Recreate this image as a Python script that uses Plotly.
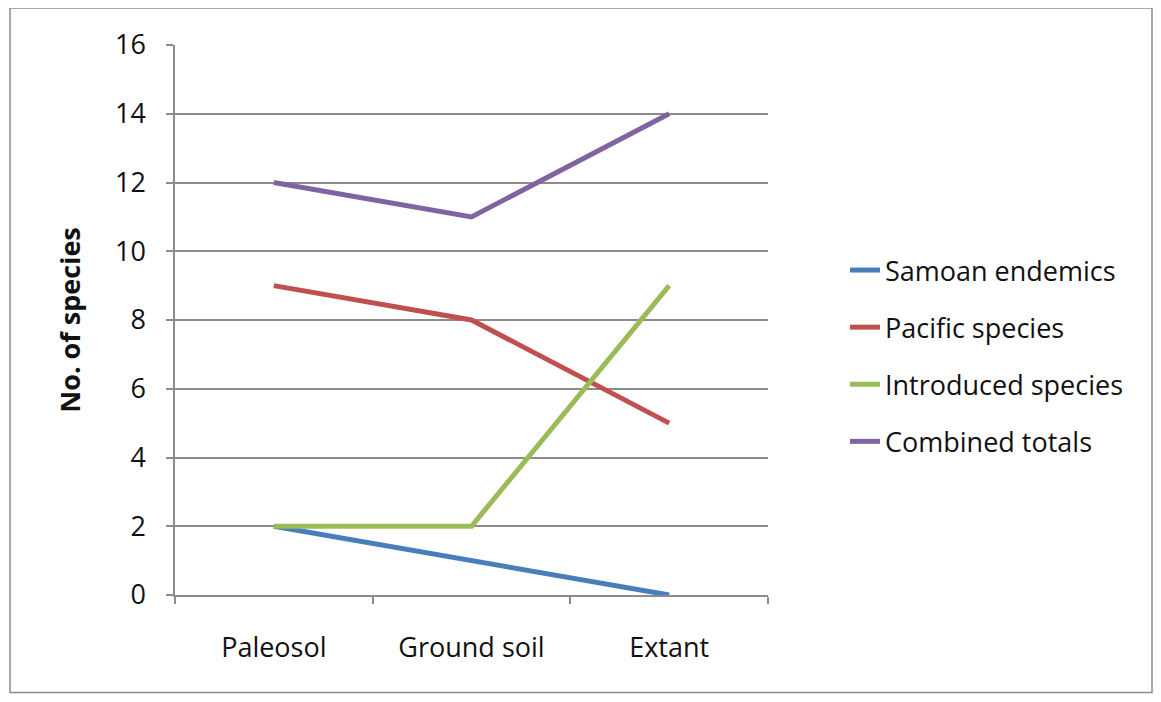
import plotly.graph_objects as go

categories = ["Paleosol", "Ground soil", "Extant"]
samoan_endemics = [2, 1, 0]
pacific_species = [9, 8, 5]
introduced_species = [2, 2, 9]
combined_totals = [12, 11, 14]
y_ticks = [0, 2, 4, 6, 8, 10, 12, 14, 16]

series = [
    ("Samoan endemics", samoan_endemics, "#4A7EBB"),
    ("Pacific species", pacific_species, "#C0504D"),
    ("Introduced species", introduced_species, "#9BBB59"),
    ("Combined totals", combined_totals, "#8064A2"),
]

fig = go.Figure()
for i, (name, vals, col) in enumerate(series):
    fig.add_trace(go.Scatter(
        x=categories, y=vals, mode="lines", name=name,
        legendgroup=str(i),
        line=dict(color=col, width=5),
    ))

OFF = 8  # browser body margin
W, H = 1161 - 2 * OFF, 702 - 2 * OFF
L, R, T, B = 175 - OFF, 768 - OFF, 45 - OFF, 595 - OFF
pw, ph = R - L, B - T

def px(x):
    return (x - OFF - L) / pw

def py(y):
    return (B - (y - OFF)) / ph

fig.add_shape(type="rect", xref="paper", yref="paper",
              x0=px(10), x1=px(1152), y0=py(692.5), y1=py(8),
              line=dict(color="#8c8c8c", width=1.5), layer="below")

font_family = "Open Sans, Liberation Sans, sans-serif"
FS = 27

fig.update_layout(
    width=W, height=H,
    margin=dict(l=L, r=W - R, t=T, b=H - B, pad=0),
    paper_bgcolor="white", plot_bgcolor="white",
    font=dict(family=font_family, color="#111", size=FS),
    showlegend=True,
    legend=dict(
        x=px(845), xanchor="left", y=py(356), yanchor="middle",
        font=dict(size=FS, family=font_family, color="#111"),
        traceorder="grouped", tracegroupgap=19,
        bgcolor="rgba(0,0,0,0)",
    ),
    xaxis=dict(
        type="category", range=[-0.5, 2.5],
        tickson="boundaries", ticks="outside", ticklen=7,
        tickcolor="#8c8c8c", tickwidth=1.5,
        showline=True, linecolor="#8c8c8c", linewidth=1.5,
        showgrid=False, tickfont=dict(size=FS),
        ticklabelstandoff=28,
    ),
    yaxis=dict(
        range=[0, 16], tickvals=y_ticks,
        ticks="outside", ticklen=7, tickcolor="#8c8c8c", tickwidth=1.5,
        showline=True, linecolor="#8c8c8c", linewidth=1.5,
        showgrid=True, gridcolor="#8c8c8c", gridwidth=1.5,
        zeroline=False, tickfont=dict(size=FS),
        ticklabelstandoff=15,
        title=dict(text="<b>No. of species</b>", font=dict(size=FS), standoff=27),
    ),
)

fig.write_html("out.html")
